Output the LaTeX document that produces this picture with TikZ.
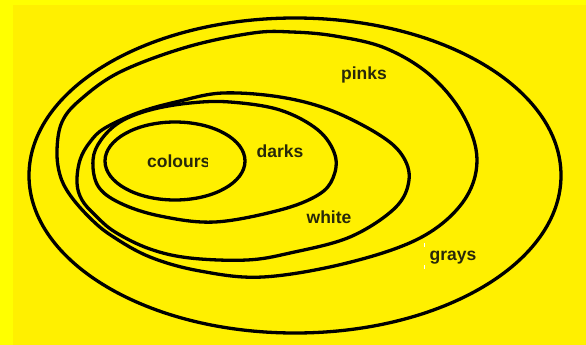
\documentclass[tikz,border=0pt]{standalone}
\usepackage{fontspec}
\setmainfont{Liberation Sans}
\definecolor{bgouter}{RGB}{255,255,0}
\definecolor{bgmain}{RGB}{255,240,0}
\definecolor{inktext}{RGB}{40,40,10}
\tikzset{
  loopline/.style={draw=black, line width=3.3pt},
  lbl/.style={font=\bfseries\fontsize{17.5}{20}\selectfont, text=inktext, inner sep=0pt, anchor=base}
}
\begin{document}
\begin{tikzpicture}[x=1pt,y=-1pt]
\useasboundingbox (0,0) rectangle (586,345);
\fill[bgouter] (0,0) rectangle (586,345);
\fill[bgmain] (13,5) rectangle (586,345);
% grays
\draw[loopline] (295,175.5) ellipse [x radius=266, y radius=157.5];
% pinks
\draw[loopline] plot[smooth cycle, tension=0.6] coordinates {
 (57,150) (62,122) (80,100) (120,72) (187,47) (253,33) (292,32) (335,36)
 (385,48) (430,75) (463,115) (477,160) (463,202) (420,238) (347,263)
 (263,277) (200,271) (150,257) (112,236) (90,218) (70,195) (60,175)};
% white
\draw[loopline] plot[smooth cycle, tension=0.6] coordinates {
 (77,183) (80,160) (90,142) (105,128) (140,112) (180,101) (223,93)
 (280,97) (330,110) (378,134) (402,155) (409,180) (395,208) (350,237)
 (290,253) (247,260) (190,258) (150,249) (115,232) (95,215) (82,200)};
% darks
\draw[loopline] plot[smooth cycle, tension=0.6] coordinates {
 (93,160) (101,140) (120,122) (150,110) (190,103) (230,102) (280,110)
 (318,130) (335,155) (333,178) (318,195) (280,210) (215,222) (160,216)
 (120,203) (98,186)};
% colours
\draw[loopline] (175,161) ellipse [x radius=70, y radius=39];
% labels
\node[lbl] (pinks) at (364,80) {pinks};
\node[lbl] (darks) at (280,157) {darks};
\node[lbl] (white) at (329,223) {white};
\node[lbl] (grays) at (453,260) {grays};
\begin{scope}
\clip (140,140) rectangle (207,180);
\node[lbl, anchor=base west] (colours) at (147,167) {colours};
\end{scope}
% cursor marks
\draw[white, line width=1pt] (424,243) -- (424,247) (424,265) -- (424,269);
\end{tikzpicture}
\end{document}
